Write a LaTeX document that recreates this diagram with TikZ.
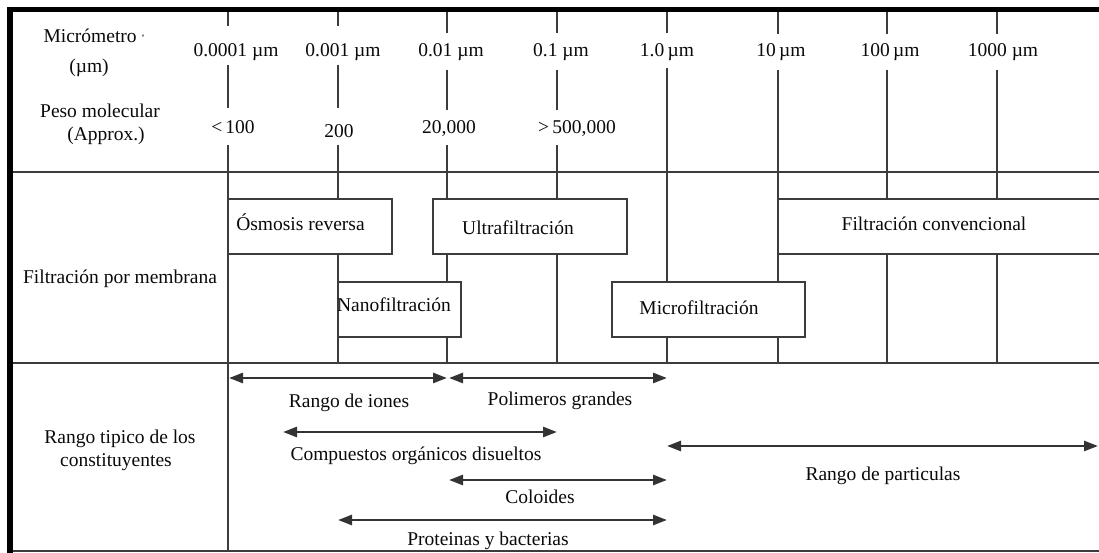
\documentclass[tikz,border=0pt]{standalone}
\usepackage{fontspec}
\setmainfont{Liberation Serif}
\usetikzlibrary{arrows.meta}
\definecolor{lineg}{HTML}{3C3C3C}
\definecolor{arrg}{HTML}{333333}
\definecolor{txt}{HTML}{0A0A0A}
\begin{document}
\begin{tikzpicture}[x=1pt,y=-1pt,
  grid/.style={draw=lineg, line width=1.8pt},
  frame/.style={draw=black, line width=5.5pt},
  box/.style={draw=lineg, line width=1.8pt, fill=white, inner sep=0pt},
  lbl/.style={inner sep=0pt, text=txt, text height=15pt, text depth=2pt, font=\fontsize{19.5}{23}\selectfont},
  rng/.style={draw=arrg, line width=2.6pt, {Triangle[length=14pt,width=10pt]}-{Triangle[length=14pt,width=10pt]}},
]
\useasboundingbox (0,0) rectangle (1099,553);
\clip (0,0) rectangle (1099,553);
\fill[white] (0,0) rectangle (1099,553);

% ---- coordinates of the grid ----
\foreach \n/\x in {a/228,b/338,c/447,d/557,e/667,f/778,g/887,h/997}{
  \coordinate (\n0) at (\x,12);
  \coordinate (\n1) at (\x,172);
  \coordinate (\n2) at (\x,363);
}
\coordinate (L1) at (13,172);  \coordinate (R1) at (1099,172);
\coordinate (L2) at (13,363);  \coordinate (R2) at (1099,363);
\coordinate (L3) at (13,551);  \coordinate (R3) at (1099,551);
\coordinate (aB) at (228,551);

% ---- vertical scale lines (top section, broken round the labels) ----
\draw[grid] (228,12) -- (228,26);  \draw[grid] (228,65) -- (228,108);  \draw[grid] (228,145) -- (aB);
\draw[grid] (338,12) -- (338,26);  \draw[grid] (338,65) -- (338,108);  \draw[grid] (338,145) -- (b2);
\draw[grid] (447,12) -- (447,33);  \draw[grid] (447,70) -- (447,110);  \draw[grid] (447,145) -- (c2);
\draw[grid] (557,12) -- (557,33);  \draw[grid] (557,70) -- (557,110);  \draw[grid] (557,145) -- (d2);
\draw[grid] (667,12) -- (667,33);  \draw[grid] (667,68) -- (e2);
\draw[grid] (778,12) -- (778,34);  \draw[grid] (778,70) -- (f2);
\draw[grid] (887,12) -- (887,34);  \draw[grid] (887,70) -- (g2);
\draw[grid] (997,12) -- (997,34);  \draw[grid] (997,70) -- (h2);

% ---- horizontal lines ----
\draw[grid] (L1) -- (R1);
\draw[grid] (L2) -- (R2);
\draw[draw=lineg, line width=1.5pt] (L3) -- (R3);

% ---- frame ----
\draw[frame] (10,7) -- (10,553);
\draw[frame] (7,9.5) -- (1099,9.5);

% ---- left labels ----
\node[lbl] (mic)  at (95,36)  {Micrómetro\,\textcolor{gray}{·}};
\node[lbl] (umu)  at (89,66)  {(µm)};
\node[lbl] (peso) at (100,111) {Peso molecular};
\node[lbl] (appr) at (106,134) {(Approx.)};

% ---- scale labels ----
\node[lbl] (s1) at (236,50)  {0.0001 µm};
\node[lbl] (s2) at (343,50)  {0.001 µm};
\node[lbl] (s3) at (451,50)  {0.01 µm};
\node[lbl] (s4) at (561,50)  {0.1 µm};
\node[lbl] (s5) at (667,50)  {1.0\,µm};
\node[lbl] (s6) at (781,50)  {10\,µm};
\node[lbl] (s7) at (890,50)  {100\,µm};
\node[lbl] (s8) at (1003,50) {1000 µm};

\node[lbl] (m1) at (233,127) {<\,100};
\node[lbl] (m2) at (339,131) {200};
\node[lbl] (m3) at (449,127) {20,000};
\node[lbl] (m4) at (577,127) {>\,500,000};

% ---- membrane filtration ----
\node[lbl] (fpm) at (120,277) {Filtración por membrana};

\node[box, minimum width=164pt, minimum height=55pt] (osm)   at (310,226.5) {};
\node[box, minimum width=194pt, minimum height=55pt] (ultra) at (530,226.5) {};
\node[box, minimum width=340pt, minimum height=55pt] (conv)  at (948,226.5) {};
\node[box, minimum width=123pt, minimum height=55pt] (nano)  at (399.5,309.5) {};
\node[box, minimum width=193pt, minimum height=55pt] (micro) at (708.5,309.5) {};

\node[lbl] (osmt)   at (300.5,224) {Ósmosis reversa};
\node[lbl] (ultrat) at (518,228)   {Ultrafiltración};
\node[lbl] (convt)  at (934,224)   {Filtración convencional};
\node[lbl] (nanot)  at (394,305)   {Nanofiltración};
\node[lbl] (microt) at (699,308)   {Microfiltración};

% ---- constituents ----
\node[lbl] (rtc1) at (120,437) {Rango tipico de los};
\node[lbl] (rtc2) at (116,460) {constituyentes};

\coordinate (ri1) at (229,378);  \coordinate (ri2) at (447,378);
\coordinate (pg1) at (449,378);  \coordinate (pg2) at (667,378);
\coordinate (co1) at (283,432);  \coordinate (co2) at (557,432);
\coordinate (rp1) at (667,446);  \coordinate (rp2) at (1098,446);
\coordinate (cl1) at (449,480);  \coordinate (cl2) at (667,480);
\coordinate (pb1) at (338,520);  \coordinate (pb2) at (667,520);

\draw[rng] (ri1) -- (ri2);
\draw[rng] (pg1) -- (pg2);
\draw[rng] (co1) -- (co2);
\draw[rng] (rp1) -- (rp2);
\draw[rng] (cl1) -- (cl2);
\draw[rng] (pb1) -- (pb2);

\node[lbl] (rit) at (349,401) {Rango de iones};
\node[lbl] (pgt) at (560,399) {Polimeros grandes};
\node[lbl] (cot) at (416,454) {Compuestos orgánicos disueltos};
\node[lbl] (rpt) at (883,474) {Rango de particulas};
\node[lbl] (clt) at (540,497) {Coloides};
\node[lbl] (pbt) at (488,539) {Proteinas y bacterias};
\end{tikzpicture}
\end{document}
